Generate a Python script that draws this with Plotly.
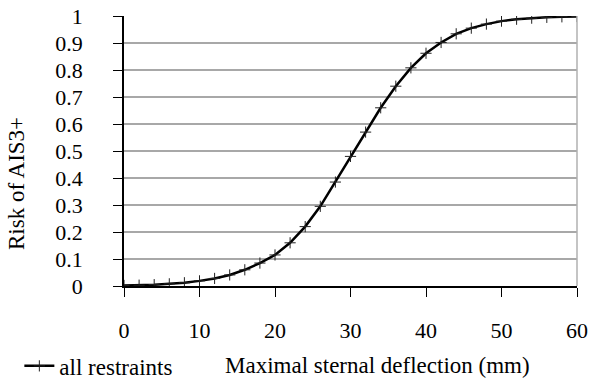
import plotly.graph_objects as go

deflection_mm = [0, 2, 4, 6, 8, 10, 12, 14, 16, 18, 20, 22, 24, 26, 28, 30,
                 32, 34, 36, 38, 40, 42, 44, 46, 48, 50, 52, 54, 56, 58, 60]
risk_ais3 = [0.002, 0.003, 0.005, 0.008, 0.012, 0.019, 0.028, 0.041, 0.060, 0.085,
             0.115, 0.160, 0.220, 0.295, 0.385, 0.480, 0.570, 0.660, 0.740, 0.808,
             0.862, 0.902, 0.934, 0.955, 0.970, 0.981, 0.988, 0.992, 0.995, 0.997, 0.998]
x_ticks = [0, 10, 20, 30, 40, 50, 60]
y_ticks = [0, 0.1, 0.2, 0.3, 0.4, 0.5, 0.6, 0.7, 0.8, 0.9, 1]
y_tick_labels = ["0", "0.1", "0.2", "0.3", "0.4", "0.5", "0.6", "0.7", "0.8", "0.9", "1"]

FONT = "Liberation Serif"

fig = go.Figure()
fig.add_trace(go.Scatter(
    x=deflection_mm, y=risk_ais3, mode="lines+markers", name="all restraints",
    line=dict(color="black", width=2.5),
    marker=dict(symbol="cross-thin", size=8, line=dict(color="#222", width=1), color="black"),
))

fig.update_layout(
    width=589, height=379,
    margin=dict(l=124, r=12, t=16, b=93, autoexpand=False),
    paper_bgcolor="white", plot_bgcolor="white",
    font=dict(family=FONT, size=22, color="black"),
    showlegend=True,
    legend=dict(x=-0.231, y=-0.296, xanchor="left", yanchor="middle",
                font=dict(family=FONT, size=23, color="black"),
                bgcolor="rgba(0,0,0,0)", itemwidth=30),
    xaxis=dict(range=[0, 60], tickvals=x_ticks, showgrid=False, zeroline=False,
               showline=True, linecolor="black", linewidth=1.5,
               ticks="outside", ticklen=9, tickcolor="black", tickwidth=1.2,
               ticklabelstandoff=15, tickfont=dict(family=FONT, size=22, color="black")),
    yaxis=dict(range=[0, 1], tickvals=y_ticks, ticktext=y_tick_labels,
               showgrid=True, gridcolor="#a8a8a8", gridwidth=1.5, zeroline=False,
               showline=True, linecolor="black", linewidth=1.5,
               ticks="outside", ticklen=9, tickcolor="black", tickwidth=1.2,
               ticklabelstandoff=26, tickfont=dict(family=FONT, size=22, color="black")),
    shapes=[dict(type="line", xref="x domain", yref="y domain", x0=1, x1=1, y0=0, y1=1,
                 line=dict(color="#b0b0b0", width=1.5))],
    annotations=[
        dict(text="Maximal sternal deflection (mm)", xref="paper", yref="paper",
             x=0.5585, y=-0.296, xanchor="center", yanchor="middle", showarrow=False,
             font=dict(family=FONT, size=23, color="black")),
        dict(text="Risk of AIS3+", xref="paper", yref="paper", textangle=-90,
             x=-0.236, y=0.378, xanchor="center", yanchor="middle", showarrow=False,
             font=dict(family=FONT, size=23, color="black")),
    ],
)

fig.write_html("out.html")
